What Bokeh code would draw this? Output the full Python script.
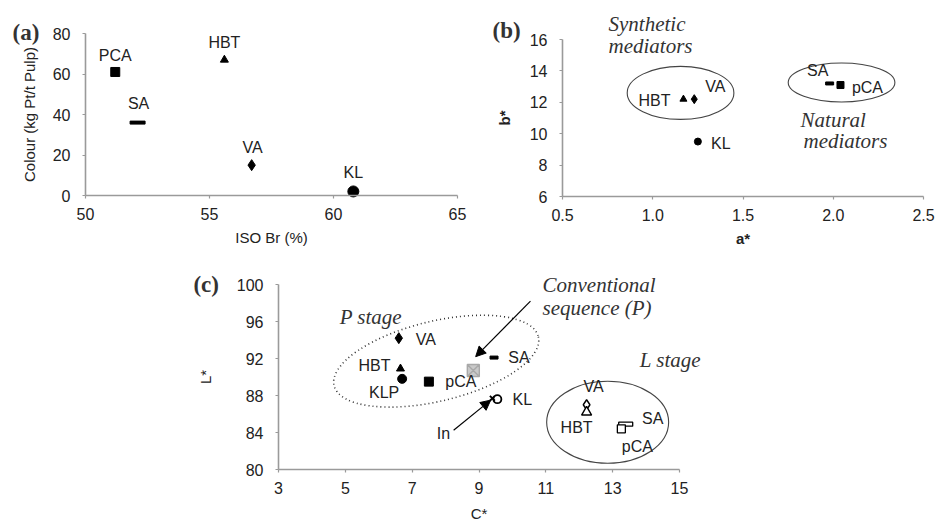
from bokeh.plotting import figure
from bokeh.layouts import column, row
from bokeh.models import Range1d, FixedTicker, Label, Arrow, NormalHead, Spacer, NumeralTickFormatter
from bokeh.core.properties import value
from bokeh.embed import file_html
from bokeh.resources import INLINE

# ---------------- data ----------------
# (a) colour vs ISO brightness
a_names = ["PCA", "SA", "HBT", "VA", "KL"]
a_iso = [51.2, 52.1, 55.6, 56.7, 60.8]
a_colour = [61, 36, 67, 15, 2]

# (b) a* vs b*
b_names = ["HBT", "VA", "KL", "SA", "pCA"]
b_a = [1.17, 1.23, 1.25, 1.98, 2.04]
b_b = [12.2, 12.2, 9.5, 13.2, 13.1]

# (c) C* vs L*, P stage (filled)
cp_names = ["VA", "HBT", "KLP", "pCA", "SA", "KL", "In"]
cp_c = [6.6, 6.65, 6.7, 7.5, 9.45, 9.55, 9.4]
cp_l = [94.2, 90.9, 89.8, 89.5, 92.1, 87.6, 87.7]
# conventional sequence (P)
conv_c = [8.83]
conv_l = [90.7]
# L stage (open)
cl_names = ["VA", "HBT", "SA", "pCA"]
cl_c = [12.22, 12.22, 13.39, 13.26]
cl_l = [87.0, 86.2, 84.9, 84.4]

a_xticks = [50, 55, 60, 65]
a_yticks = [0, 20, 40, 60, 80]
b_xticks = [0.5, 1.0, 1.5, 2.0, 2.5]
b_yticks = [6, 8, 10, 12, 14, 16]
c_xticks = [3, 5, 7, 9, 11, 13, 15]
c_yticks = [80, 84, 88, 92, 96, 100]

SANS = "Liberation Sans"
SERIF = "Liberation Serif"
TXT = "#222222"
AX = "#9a9a9a"


def make_fig(w, h, xt, yt, xlab, ylab, frame, bold=False, ylab_standoff=12):
    """frame = (left_px, right_px, top_px, bottom_px) of the axes box in the figure"""
    l, r, t, b = frame
    x0, x1 = xt[0], xt[-1]
    y0, y1 = yt[0], yt[-1]
    kx = (x1 - x0) / (r - l)
    ky = (y1 - y0) / (b - t)
    p = figure(width=w, height=h, output_backend="svg", toolbar_location=None,
               x_range=Range1d(x0 - l * kx, x1 + (w - r) * kx),
               y_range=Range1d(y0 - (h - b) * ky, y1 + t * ky),
               min_border=0)
    p.xaxis.ticker = FixedTicker(ticks=xt)
    p.yaxis.ticker = FixedTicker(ticks=yt)
    p.xaxis.fixed_location = y0
    p.yaxis.fixed_location = x0
    p.xaxis.bounds = (x0, x1)
    p.yaxis.bounds = (y0, y1)
    p.xaxis.axis_label = xlab
    p.yaxis.axis_label = ylab
    for ax in p.axis:
        ax.axis_line_color = AX
        ax.axis_line_width = 1.6
        ax.major_tick_line_color = AX
        ax.major_tick_line_width = 1.2
        ax.major_tick_out = 3
        ax.major_tick_in = 0
        ax.minor_tick_line_color = None
        ax.major_label_text_font = SANS
        ax.major_label_text_font_size = "16px"
        ax.major_label_text_color = TXT
        ax.axis_label_text_font = SANS
        ax.axis_label_text_font_size = "15px"
        ax.axis_label_text_color = TXT
        ax.axis_label_text_font_style = "bold" if bold else "normal"
    p.xaxis.major_label_standoff = 9
    p.yaxis.major_label_standoff = 12
    p.xaxis.axis_label_standoff = 6
    p.yaxis.axis_label_standoff = ylab_standoff
    p.xgrid.visible = False
    p.ygrid.visible = False
    p.outline_line_color = None
    return p


def labels(p, xs, ys, names, dx, dy, size="16px"):
    p.text(x=xs, y=ys, text=names, x_offset=dx, y_offset=dy,
           text_align="center", text_baseline="middle",
           text_font=value(SANS), text_font_size=size, text_color=TXT)


def note(p, x, y, txt, font=SERIF, size="21px", style_="italic"):
    p.add_layout(Label(x=x, y=y, text=txt, text_font=font,
                       text_font_size=size, text_font_style=style_, text_color="#333333",
                       text_align="left", text_baseline="middle"))


# ---------------- panel (a) ----------------
pa = make_fig(470, 250, a_xticks, a_yticks, "ISO Br (%)", "Colour (kg Pt/t Pulp)",
              (85, 457, 33, 195))
pa.scatter([a_iso[0]], [a_colour[0]], marker="square", size=9, color="black")
pa.rect([a_iso[1]], [a_colour[1]], width=15, height=3, width_units="screen",
        height_units="screen", color="black")
pa.scatter([a_iso[2]], [a_colour[2]], marker="triangle", size=8, color="black")
pa.scatter([a_iso[3]], [a_colour[3]], marker="diamond", size=11, color="black")
pa.scatter([a_iso[4]], [a_colour[4]], marker="circle", size=11, color="black")
labels(pa, a_iso, a_colour, a_names, [0, 1, 0, 1, 0], [-16, -19, -17, -18, -19])
note(pa, 47.06, 80.5, "(a)", size="23px", style_="bold")

# ---------------- panel (b) ----------------
pb = make_fig(465, 250, b_xticks, b_yticks, "a*", "b*", (92, 453, 39, 196),
              bold=True, ylab_standoff=14)
pb.xaxis.formatter = NumeralTickFormatter(format="0.0")
pb.ellipse(x=[1.154], y=[12.6], width=0.591, height=3.38, fill_color=None,
           line_color="#444444", line_width=1.1)
pb.ellipse(x=[2.046], y=[13.26], width=0.591, height=2.49, fill_color=None,
           line_color="#444444", line_width=1.1)
pb.scatter([b_a[0]], [b_b[0]], marker="triangle", size=7, color="black")
pb.scatter([b_a[1]], [b_b[1]], marker="diamond", size=9, color="black")
pb.scatter([b_a[2]], [b_b[2]], marker="circle", size=7, color="black")
pb.rect([b_a[3]], [b_b[3]], width=8, height=3, width_units="screen",
        height_units="screen", color="black")
pb.scatter([b_a[4]], [b_b[4]], marker="square", size=7, color="black")
labels(pb, b_a, b_b, b_names, [-29, 21, 23, -12, 27], [1, -13, 2, -13, 2])
note(pb, 0.112, 16.59, "(b)", size="23px", style_="bold")
note(pb, 0.755, 16.98, "Synthetic")
note(pb, 0.755, 15.57, "mediators")
note(pb, 1.819, 10.85, "Natural")
note(pb, 1.835, 9.51, "mediators")

# ---------------- panel (c) ----------------
pc = make_fig(560, 270, c_xticks, c_yticks, "C*", "L*", (98, 499, 34, 219),
              ylab_standoff=20)
pc.xaxis.axis_label_standoff = 8
pc.ellipse(x=[7.72], y=[91.71], width=210, height=80, width_units="screen",
           height_units="screen", angle=0.235, fill_color=None,
           line_color="#333333", line_width=1.6, line_dash="1 3")
pc.ellipse(x=[12.85], y=[85.11], width=3.65, height=8.86, fill_color=None,
           line_color="#444444", line_width=1.1)
# P stage
pc.scatter([cp_c[0]], [cp_l[0]], marker="diamond", size=11, color="black")
pc.scatter([cp_c[1]], [cp_l[1]], marker="triangle", size=8, color="black")
pc.scatter([cp_c[2]], [cp_l[2]], marker="circle", size=9, color="black")
pc.scatter([cp_c[3]], [cp_l[3]], marker="square", size=9, color="black")
pc.rect([cp_c[4]], [cp_l[4]], width=8, height=3, width_units="screen",
        height_units="screen", color="black")
pc.scatter([cp_c[5]], [cp_l[5]], marker="circle", size=8, fill_color=None,
           line_color="black", line_width=1.8)
pc.scatter([cp_c[6]], [cp_l[6]], marker="x", size=7, line_color="black", line_width=1.8)
pc.scatter(conv_c, conv_l, marker="square_x", size=12, fill_color="#c9c9c9",
           line_color="#a8a8a8", line_width=1.4)
# L stage
pc.scatter([cl_c[0]], [cl_l[0]], marker="diamond", size=10, fill_color="white",
           line_color="black", line_width=1.4)
pc.scatter([cl_c[1]], [cl_l[1]], marker="triangle", size=10, fill_color="white",
           line_color="black", line_width=1.4)
pc.rect([cl_c[2]], [cl_l[2]], width=14, height=4, width_units="screen",
        height_units="screen", fill_color="white", line_color="black", line_width=1.3)
pc.scatter([cl_c[3]], [cl_l[3]], marker="square", size=8, fill_color="white",
           line_color="black", line_width=1.3)
labels(pc, cp_c, cp_l, cp_names, [27, -26, -18, 32, 25, 25, -49], [1, -3, 14, 0, 0, 0, 35])
labels(pc, cl_c, cl_l, cl_names, [7, -10, 27, 16], [-18, 15, -6, 18])
pc.add_layout(Arrow(x_start=10.54, y_start=98.2, x_end=8.9, y_end=92.2,
                    line_color="black", line_width=1.2,
                    end=NormalHead(size=10, fill_color="black", line_color="black")))
pc.add_layout(Arrow(x_start=8.24, y_start=84.25, x_end=9.35, y_end=87.5,
                    line_color="black", line_width=1.2,
                    end=NormalHead(size=10, fill_color="black", line_color="black")))
note(pc, 0.455, 100.03, "(c)", size="23px", style_="bold")
note(pc, 4.83, 96.46, "P stage")
note(pc, 10.90, 99.92, "Conventional")
note(pc, 10.90, 97.5, "sequence (P)")
note(pc, 13.81, 91.82, "L stage")

layout = column(row(pa, pb), row(Spacer(width=180, height=270), pc))
open("out.html", "w").write(file_html(layout, INLINE))
